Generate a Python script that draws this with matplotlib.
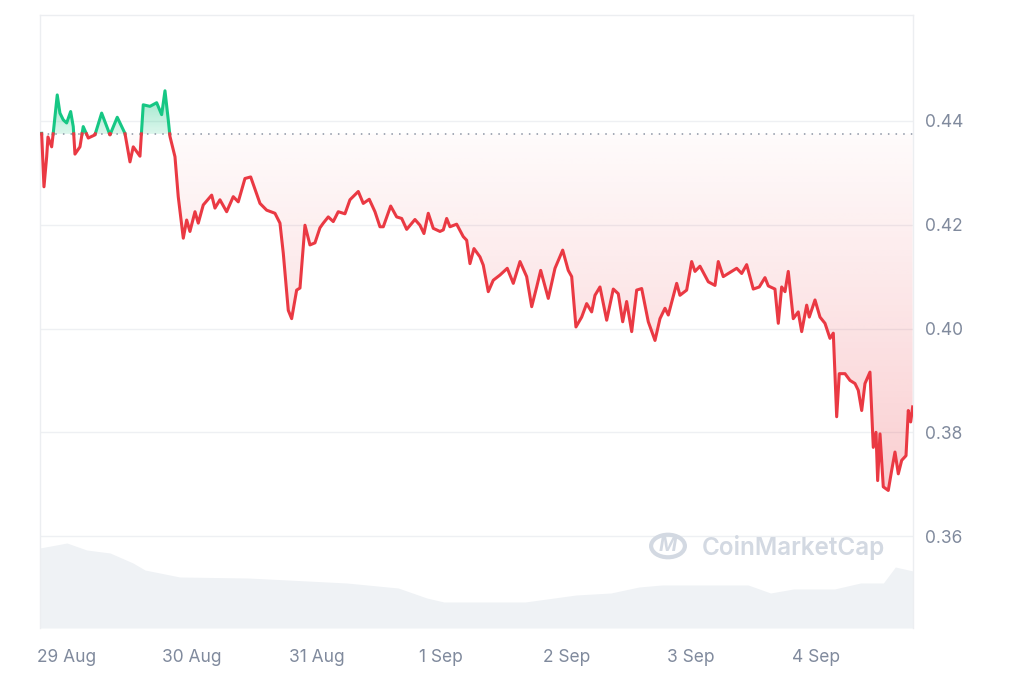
import numpy as np
import matplotlib
matplotlib.use("Agg")
import matplotlib.pyplot as plt
from matplotlib.patches import PathPatch, Circle
from matplotlib.path import Path

# price series, hours since 29 Aug 00:00
hours = [-4.87, -4.42, -3.90, -3.65, -2.94, -2.63, -1.87, -1.35, -0.71, -0.06,
         0.71, 1.21, 1.54, 2.50, 3.13, 4.10, 5.38, 6.67, 8.27, 9.67,
         11.15, 12.12, 12.75, 14.04, 14.67, 15.96, 17.25, 18.21, 18.85, 19.48,
         19.81, 20.77, 21.40, 22.37, 23.02, 23.65, 24.62, 25.25, 26.21, 27.83,
         28.46, 29.42, 30.71, 31.98, 32.94, 34.23, 35.33, 37.12, 38.40, 40.00,
         40.96, 41.60, 42.56, 43.21, 44.17, 44.81, 45.77, 46.73, 47.69, 48.65,
         49.29, 50.25, 51.21, 52.17, 53.46, 54.42, 56.02, 56.98, 58.13, 59.23,
         60.19, 60.83, 62.25, 63.40, 64.37, 65.33, 66.92, 67.88, 68.65, 69.48,
         70.44, 71.73, 72.37, 73.02, 73.65, 74.94, 76.21, 76.87, 77.50, 78.27,
         79.42, 80.06, 81.02, 81.98, 83.27, 84.67, 85.83, 87.12, 88.40, 89.37,
         90.33, 91.10, 92.56, 93.85, 95.33, 96.40, 97.06, 97.88, 98.98, 99.94,
         100.90, 101.54, 102.50, 103.79, 105.06, 106.02, 106.87, 107.63, 108.60, 109.56,
         110.52, 111.79, 113.08, 114.04, 115.00, 115.64, 117.25, 117.88, 119.17, 120.13,
         120.77, 121.73, 123.33, 124.62, 125.25, 126.21, 127.83, 128.79, 129.75, 130.71,
         131.98, 133.13, 134.23, 134.87, 136.15, 136.79, 137.44, 138.08, 138.71, 139.67,
         140.63, 141.29, 142.25, 142.75, 143.85, 144.81, 145.77, 146.73, 147.37, 148.02,
         148.52, 149.62, 150.58, 151.54, 152.17, 152.83, 153.46, 154.42, 155.06, 155.58,
         155.90, 156.35, 156.98, 157.94, 158.60, 159.23, 159.87, 160.52, 161.35, 161.79,
         162.25, 162.63]
prices = [0.4376, 0.4273, 0.4331, 0.4369, 0.4350, 0.4377, 0.4450, 0.4415, 0.4402, 0.4396,
          0.4418, 0.4389, 0.4336, 0.4350, 0.4389, 0.4367, 0.4373, 0.4415, 0.4373, 0.4407,
          0.4376, 0.4321, 0.4350, 0.4332, 0.4431, 0.4428, 0.4435, 0.4412, 0.4458, 0.4402,
          0.4370, 0.4331, 0.4254, 0.4174, 0.4209, 0.4187, 0.4225, 0.4203, 0.4238, 0.4257,
          0.4232, 0.4248, 0.4225, 0.4254, 0.4244, 0.4289, 0.4292, 0.4241, 0.4228, 0.4222,
          0.4203, 0.4145, 0.4035, 0.4019, 0.4074, 0.4078, 0.4199, 0.4161, 0.4165, 0.4194,
          0.4203, 0.4215, 0.4206, 0.4225, 0.4221, 0.4248, 0.4264, 0.4241, 0.4249, 0.4225,
          0.4196, 0.4196, 0.4236, 0.4215, 0.4212, 0.4191, 0.4210, 0.4199, 0.4183, 0.4222,
          0.4193, 0.4187, 0.4190, 0.4212, 0.4196, 0.4201, 0.4177, 0.4170, 0.4125, 0.4154,
          0.4138, 0.4122, 0.4071, 0.4093, 0.4103, 0.4116, 0.4087, 0.4129, 0.4100, 0.4042,
          0.4080, 0.4112, 0.4058, 0.4116, 0.4151, 0.4112, 0.4100, 0.4003, 0.4022, 0.4048,
          0.4032, 0.4064, 0.4080, 0.4016, 0.4076, 0.4067, 0.4013, 0.4052, 0.3994, 0.4074,
          0.4077, 0.4013, 0.3977, 0.4019, 0.4039, 0.4026, 0.4087, 0.4064, 0.4074, 0.4129,
          0.4110, 0.4120, 0.4090, 0.4083, 0.4129, 0.4100, 0.4110, 0.4116, 0.4106, 0.4123,
          0.4076, 0.4080, 0.4098, 0.4082, 0.4076, 0.4010, 0.4080, 0.4071, 0.4110, 0.4019,
          0.4032, 0.3994, 0.4045, 0.4022, 0.4055, 0.4022, 0.4010, 0.3981, 0.3991, 0.3830,
          0.3913, 0.3913, 0.3900, 0.3894, 0.3881, 0.3842, 0.3894, 0.3916, 0.3771, 0.3800,
          0.3707, 0.3797, 0.3695, 0.3688, 0.3727, 0.3762, 0.3720, 0.3746, 0.3755, 0.3842,
          0.3820, 0.3849]
base_price = 0.4375

# volume (relative units), hours since 29 Aug 00:00
vol_hours = [-5.2, 0.0, 3.8, 8.3, 12.7, 15.0, 21.7, 34.8, 42.5, 53.8, 63.7, 69.2, 72.5,
             88.1, 97.9, 104.6, 110.0, 114.4, 131.0, 135.3, 139.7, 147.6, 152.6, 157.0,
             159.3, 162.7]
volume = [80, 85, 78, 75, 65, 58, 51, 50, 48, 45, 40, 30, 26,
          26, 33, 35, 41, 43, 43, 35, 39, 39, 45, 45,
          61, 57]

day_labels = ["29 Aug", "30 Aug", "31 Aug", "1 Sep", "2 Sep", "3 Sep", "4 Sep"]
y_ticks = [0.36, 0.38, 0.40, 0.42, 0.44]

RED = "#ea3943"
GREEN = "#16c784"
LABEL = "#808a9d"
MARK = "#d3d9e2"

t = np.array(hours) / 24.0
p = np.array(prices)
vt = np.array(vol_hours) / 24.0
v = np.array(volume)

plt.rcParams["font.family"] = ["Inter", "DejaVu Sans"]
fig = plt.figure(figsize=(10.24, 6.83), dpi=100)
pos = [40 / 1024, 55 / 683, 873 / 1024, 613 / 683]
ax = fig.add_axes(pos)
axv = ax.twinx()
ax.set_zorder(axv.get_zorder() + 1)
ax.patch.set_visible(False)

x0, x1 = -0.216, 6.779
y0, y1 = 0.3423, 0.4604

# volume area in background
axv.fill_between(vt, 0, v, color="#eff2f5", lw=0)
axv.set_ylim(0, 613)
axv.set_yticks([])
for s in axv.spines.values():
    s.set_visible(False)

# grid
for yv in y_ticks:
    ax.axhline(yv, color="#eef0f3", lw=1, zorder=0)


def gradient_fill(lo, hi, color, a_base, a_far, direction):
    poly = ax.fill_between(t, lo, hi, color="none", lw=0)
    clip = PathPatch(Path.make_compound_path(*poly.get_paths()), transform=ax.transData,
                     facecolor="none", edgecolor="none")
    ax.add_patch(clip)
    rgb = np.array(matplotlib.colors.to_rgb(color))
    n = 256
    img = np.zeros((n, 2, 4))
    img[..., :3] = rgb
    if direction == "down":
        ext = [x0, x1, 0.365, base_price]
        alpha = np.linspace(a_base, a_far, n)
    else:
        ext = [x0, x1, base_price, 0.447]
        alpha = np.linspace(a_far, a_base, n)
    img[..., 3] = alpha[:, None]
    im = ax.imshow(img, extent=ext, aspect="auto", origin="upper",
                   interpolation="bilinear", zorder=1)
    im.set_clip_path(clip)


gradient_fill(np.minimum(p, base_price), base_price, RED, 0.02, 0.26, "down")
gradient_fill(base_price, np.maximum(p, base_price), GREEN, 0.15, 0.5, "up")

# split the line where it crosses the baseline
tt, pp = [t[0]], [p[0]]
for i in range(1, len(t)):
    if (p[i - 1] - base_price) * (p[i] - base_price) < 0:
        f = (base_price - p[i - 1]) / (p[i] - p[i - 1])
        tt.append(t[i - 1] + f * (t[i] - t[i - 1]))
        pp.append(base_price)
    tt.append(t[i])
    pp.append(p[i])
tt = np.array(tt)
pp = np.array(pp)
ax.plot(tt, np.ma.masked_where(pp < base_price, pp), color=GREEN, lw=2.2,
        solid_joinstyle="round", zorder=3)
ax.plot(tt, np.ma.masked_where(pp > base_price, pp), color=RED, lw=2.2,
        solid_joinstyle="round", zorder=3)

ax.axhline(base_price, color="#8a93a3", lw=1.1, ls=(0, (1, 4)), zorder=2)

ax.set_xlim(x0, x1)
ax.set_ylim(y0, y1)
ax.set_xticks(range(len(day_labels)))
ax.set_xticklabels(day_labels)
ax.yaxis.tick_right()
ax.set_yticks(y_ticks)
ax.set_yticklabels([f"{yv:.2f}" for yv in y_ticks])
ax.tick_params(axis="both", length=0, labelsize=12.5, labelcolor=LABEL)
ax.tick_params(axis="x", pad=15)
ax.tick_params(axis="y", pad=9)
for name, s in ax.spines.items():
    s.set_color("#eceef1")
    s.set_linewidth(1)
ax.spines["bottom"].set_visible(False)

# watermark
fig.text(702 / 1024, 1 - 547 / 683, "CoinMarketCap", fontsize=17.5, color=MARK,
         fontweight="semibold", va="center", ha="left", zorder=5)
fig.patches.append(Circle((668 / 1024, 1 - 546 / 683), 0.0165, transform=fig.transFigure,
                          fill=False, edgecolor=MARK, lw=3, figure=fig))
fig.text(668 / 1024, 1 - 546 / 683, "M", fontsize=14, color=MARK, fontweight="bold",
         fontstyle="italic", va="center", ha="center")

fig.savefig("out.png", dpi=100, facecolor="white")
